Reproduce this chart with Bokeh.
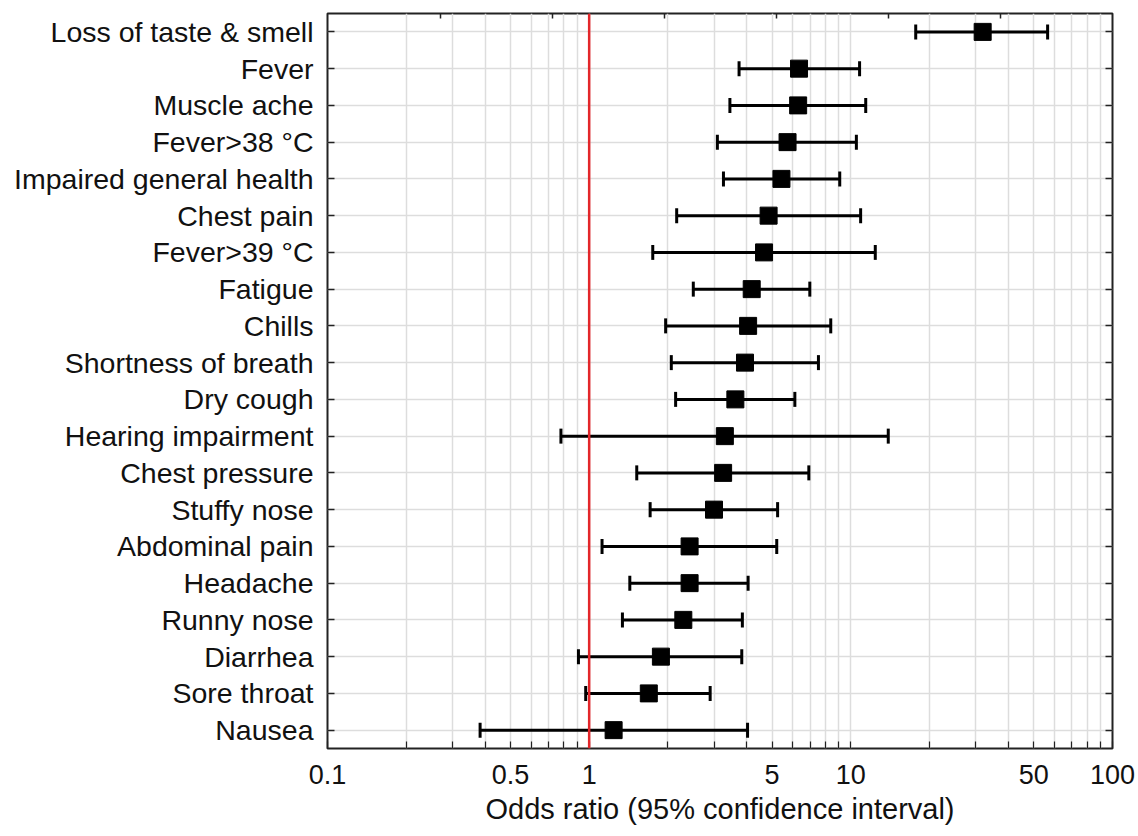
from bokeh.plotting import figure
from bokeh.models import (ColumnDataSource, FactorRange, Whisker, Span, LogAxis,
                          CategoricalAxis, FixedTicker, CustomJSTickFormatter, TeeHead)
from bokeh.embed import file_html
from bokeh.resources import INLINE

symptoms = ["Loss of taste & smell", "Fever", "Muscle ache", "Fever>38 \u00b0C",
            "Impaired general health", "Chest pain", "Fever>39 \u00b0C", "Fatigue",
            "Chills", "Shortness of breath", "Dry cough", "Hearing impairment",
            "Chest pressure", "Stuffy nose", "Abdominal pain", "Headache",
            "Runny nose", "Diarrhea", "Sore throat", "Nausea"]
odds_ratio = [31.9, 6.34, 6.29, 5.73, 5.43, 4.85, 4.66, 4.18, 4.05, 3.94,
              3.62, 3.30, 3.25, 3.00, 2.42, 2.42, 2.29, 1.88, 1.69, 1.24]
ci_lower = [17.7, 3.74, 3.45, 3.09, 3.26, 2.16, 1.75, 2.50, 1.96, 2.06,
            2.14, 0.78, 1.52, 1.71, 1.12, 1.43, 1.34, 0.91, 0.97, 0.383]
ci_upper = [56.5, 10.8, 11.4, 10.5, 9.07, 10.9, 12.4, 6.97, 8.38, 7.52,
            6.11, 13.9, 6.91, 5.25, 5.21, 4.05, 3.85, 3.83, 2.90, 4.03]

major_ticks = [0.1, 0.5, 1, 5, 10, 50, 100]
minor_ticks = [0.2, 0.3, 0.4, 0.6, 0.7, 0.8, 0.9,
               2, 3, 4, 6, 7, 8, 9,
               20, 30, 40, 60, 70, 80, 90]
top_ticks = [0.271, 0.725, 1.94, 5.2, 13.9, 37.2]
reference_or = 1
x_title = "Odds ratio (95% confidence interval)"

FONT = "Liberation Sans"

src = ColumnDataSource(dict(sym=symptoms, orr=odds_ratio, lo=ci_lower, hi=ci_upper))

p = figure(width=1136, height=836, x_axis_type="log", x_range=(0.1, 100),
           y_range=FactorRange(factors=list(reversed(symptoms))),
           output_backend="svg", toolbar_location=None,
           min_border_left=327, min_border_top=13, min_border_right=24,
           min_border_bottom=88)
p.background_fill_color = "white"
p.border_fill_color = "white"
p.outline_line_color = "#222222"
p.outline_line_width = 2

# grid
p.xgrid.ticker = FixedTicker(ticks=major_ticks, minor_ticks=minor_ticks)
p.xgrid.grid_line_color = "#dddddd"
p.xgrid.grid_line_width = 1.5
p.xgrid.minor_grid_line_color = "#dddddd"
p.xgrid.minor_grid_line_width = 1.5
p.ygrid.grid_line_color = "#dddddd"
p.ygrid.grid_line_width = 1.5

# x axis
xa = p.xaxis[0]
xa.ticker = FixedTicker(ticks=major_ticks, minor_ticks=minor_ticks)
xa.formatter = CustomJSTickFormatter(code="return String(Math.round(tick*1000)/1000);")
xa.major_tick_in = 7
xa.major_tick_out = 0
xa.minor_tick_in = 7
xa.minor_tick_out = 0
xa.major_tick_line_color = "#222222"
xa.minor_tick_line_color = "#222222"
xa.major_tick_line_width = 1.2
xa.minor_tick_line_width = 1.2
xa.axis_line_color = None
xa.major_label_text_font = FONT
xa.major_label_text_font_size = "27px"
xa.major_label_text_color = "#111111"
xa.major_label_standoff = 16
xa.axis_label = x_title
xa.axis_label_text_font = FONT
xa.axis_label_text_font_size = "29px"
xa.axis_label_text_font_style = "normal"
xa.axis_label_text_color = "#111111"
xa.axis_label_standoff = 6

# y axis
ya = p.yaxis[0]
ya.major_tick_in = 7
ya.major_tick_out = 0
ya.major_tick_line_color = "#222222"
ya.major_tick_line_width = 1.5
ya.axis_line_color = None
ya.major_label_text_font = FONT
ya.major_label_text_font_size = "28.5px"
ya.major_label_text_color = "#111111"
ya.major_label_standoff = 14

# mirrored ticks (no labels)
blank = CustomJSTickFormatter(code="return '';")
ra = CategoricalAxis(major_tick_in=7, major_tick_out=0, major_label_standoff=0,
                     axis_line_color=None, major_tick_line_color="#222222",
                     major_tick_line_width=1.5)
ra.formatter = CustomJSTickFormatter(code="return '';")
p.add_layout(ra, "right")
ta = LogAxis(ticker=FixedTicker(ticks=top_ticks, minor_ticks=[]), major_tick_in=5,
             major_tick_out=0, minor_tick_in=0, minor_tick_out=0,
             major_label_standoff=0, formatter=blank,
             axis_line_color=None, major_tick_line_color="#222222",
             major_tick_line_width=1.5)
p.add_layout(ta, "above")

# reference line
p.add_layout(Span(location=reference_or, dimension="height", line_color="#e3262a",
                  line_width=2.5))

# CI whiskers
w = Whisker(source=src, base="sym", lower="lo", upper="hi", dimension="width",
            line_color="black", line_width=3,
            upper_head=TeeHead(size=15, line_color="black", line_width=3),
            lower_head=TeeHead(size=15, line_color="black", line_width=3))
p.add_layout(w)

p.scatter(x="orr", y="sym", source=src, marker="square", size=17,
          fill_color="black", line_color="black")

open("out.html", "w").write(file_html(p, INLINE))
